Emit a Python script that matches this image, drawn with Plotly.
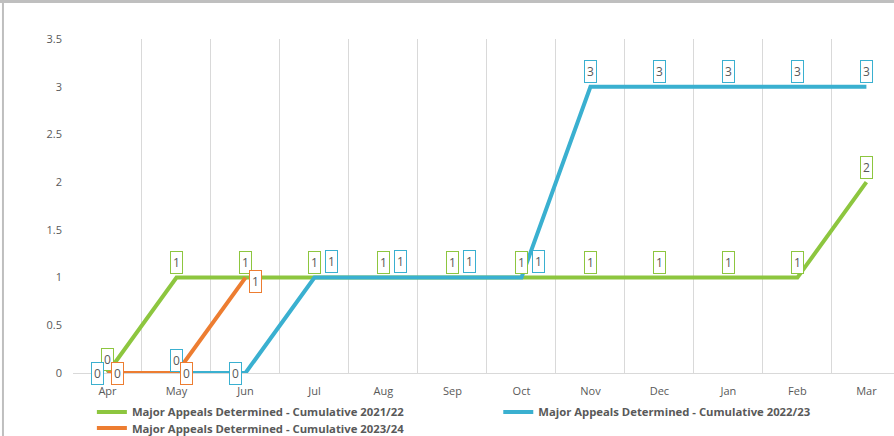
import plotly.graph_objects as go

months = ["Apr", "May", "Jun", "Jul", "Aug", "Sep", "Oct", "Nov", "Dec", "Jan", "Feb", "Mar"]

names = [
    "Major Appeals Determined - Cumulative 2021/22",
    "Major Appeals Determined - Cumulative 2022/23",
    "Major Appeals Determined - Cumulative 2023/24",
]
vals_2122 = [0, 1, 1, 1, 1, 1, 1, 1, 1, 1, 1, 2]
vals_2223 = [0, 0, 0, 1, 1, 1, 1, 3, 3, 3, 3, 3]
vals_2324 = [0, 0, 1]

colors = ["#8DC63F", "#3AB0D0", "#ED7D31"]
legends = ["legend", "legend2", "legend3"]

# label offsets (px) per point, roughly as placed in the original chart
shifts = [
    [(0, 14)] + [(0, 15)] * 11,
    [(-10, 0), (0, 13), (-10, 0)] + [(17, 16)] * 4 + [(0, 15)] * 5,
    [(10, 0), (10, 0), (10, -4)],
]

series = [vals_2122, vals_2223, vals_2324]

fig = go.Figure()
for name, vals, col, lg in zip(names, series, colors, legends):
    fig.add_trace(go.Scatter(
        x=months[:len(vals)], y=vals, name=name, mode="lines",
        line=dict(color=col, width=4), legend=lg,
    ))

for vals, col, sh in zip(series, colors, shifts):
    for m, v, (dx, dy) in zip(months, vals, sh):
        fig.add_annotation(
            x=m, y=v, text=str(v), showarrow=False,
            xshift=dx, yshift=dy,
            font=dict(size=12, color="#595959"),
            bgcolor="white", bordercolor=col, borderwidth=1, borderpad=2,
        )

leg_font = dict(size=11.3, color="#595959", weight="bold")


def leg(x, y):
    return dict(orientation="v", x=x, xanchor="left", y=y, yanchor="middle",
                font=leg_font, itemwidth=30, bgcolor="rgba(0,0,0,0)")


fig.update_layout(
    width=894, height=436,
    margin=dict(l=73, r=0, t=39, b=63, autoexpand=False),
    paper_bgcolor="white", plot_bgcolor="white",
    font=dict(family="Open Sans", color="#595959", size=11),
    showlegend=True,
    legend=leg(0.023, -0.117),
    legend2=leg(0.518, -0.117),
    legend3=leg(0.023, -0.165),
    xaxis=dict(
        type="category", categoryorder="array", categoryarray=months,
        range=[-0.5, 11.4], tickson="boundaries", ticks="",
        showgrid=True, gridcolor="#D9D9D9", gridwidth=1,
        showline=True, linecolor="#D9D9D9", linewidth=1,
        tickfont=dict(size=11, color="#595959"), ticklabelstandoff=8,
        fixedrange=True,
    ),
    yaxis=dict(
        range=[0, 3.5], dtick=0.5, showgrid=False, zeroline=False,
        showline=False, ticks="", ticklabelstandoff=10,
        tickfont=dict(size=11, color="#595959"),
    ),
    shapes=[
        dict(type="line", xref="paper", yref="paper", x0=-0.0853, x1=-0.0853,
             y0=-0.2, y1=1.12, line=dict(color="#BFBFBF", width=2)),
        dict(type="line", xref="paper", yref="paper", x0=-0.09, x1=1.0,
             y0=1.112, y1=1.112, line=dict(color="#BFBFBF", width=3)),
    ],
)

fig.write_html("out.html", config={"displayModeBar": False},
               post_script="document.body.style.margin='0';")
